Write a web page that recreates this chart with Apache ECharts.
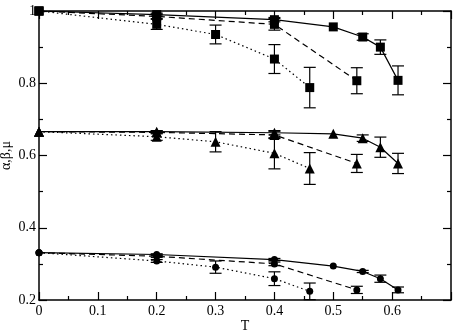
<!DOCTYPE html>
<html>
<head>
<meta charset="utf-8">
<script src="https://cdn.jsdelivr.net/npm/echarts@6/dist/echarts.min.js"></script>
<style>
html, body { margin: 0; padding: 0; background: #fff; }
#chart { width: 454px; height: 334px; }
</style>
</head>
<body>
<div id="chart"></div>
<script>
// alpha (squares)
var sqSolidX = [0, 0.2, 0.4, 0.5, 0.55, 0.58, 0.61];
var sqSolidY = [1.0, 0.99, 0.976, 0.956, 0.928, 0.90, 0.808];
var sqSolidE = [0, 0.004, 0.006, 0, 0.009, 0.02, 0.04];
var sqDashX = [0, 0.2, 0.4, 0.54];
var sqDashY = [1.0, 0.985, 0.963, 0.807];
var sqDashE = [0, 0.006, 0.016, 0.036];
var sqDotX = [0, 0.2, 0.3, 0.4, 0.46];
var sqDotY = [1.0, 0.963, 0.935, 0.867, 0.788];
var sqDotE = [0, 0.014, 0.026, 0.04, 0.056];
// beta (triangles)
var trSolidX = [0, 0.2, 0.4, 0.5, 0.55, 0.58, 0.61];
var trSolidY = [0.666, 0.666, 0.663, 0.66, 0.648, 0.623, 0.578];
var trSolidE = [0, 0.003, 0.006, 0, 0.009, 0.028, 0.028];
var trDashX = [0, 0.2, 0.4, 0.54];
var trDashY = [0.666, 0.664, 0.657, 0.578];
var trDashE = [0, 0.004, 0.01, 0.025];
var trDotX = [0, 0.2, 0.3, 0.4, 0.46];
var trDotY = [0.666, 0.652, 0.638, 0.606, 0.564];
var trDotE = [0, 0.01, 0.028, 0.043, 0.044];
// mu (circles)
var ciSolidX = [0, 0.2, 0.4, 0.5, 0.55, 0.58, 0.61];
var ciSolidY = [0.331, 0.326, 0.312, 0.294, 0.279, 0.259, 0.228];
var ciSolidE = [0, 0.002, 0.003, 0, 0.003, 0.01, 0.008];
var ciDashX = [0, 0.2, 0.4, 0.54];
var ciDashY = [0.331, 0.321, 0.30, 0.228];
var ciDashE = [0, 0.003, 0.005, 0.01];
var ciDotX = [0, 0.2, 0.3, 0.4, 0.46];
var ciDotY = [0.331, 0.308, 0.291, 0.259, 0.224];
var ciDotE = [0, 0.004, 0.017, 0.019, 0.023];

var xTicks = ['0', '0.1', '0.2', '0.3', '0.4', '0.5', '0.6'];

var chart = echarts.init(document.getElementById('chart'));
var FONT = 'Liberation Serif';

function pts(xs, ys) {
    return xs.map(function (x, i) { return [x, ys[i]]; });
}
function errs(xs, ys, es) {
    return xs.map(function (x, i) { return [x, ys[i], es[i]]; });
}
function lineSeries(xs, ys, sym, size, type) {
    var dash = type === 'dashed' ? [6, 4] : (type === 'dotted' ? [1.5, 3] : 'solid');
    return {
        type: 'line', data: pts(xs, ys), symbol: sym, symbolSize: size,
        itemStyle: { color: '#000' },
        lineStyle: { color: '#000', width: 1.2, type: dash },
        animation: false, silent: true, z: 3
    };
}
function errSeries(xs, ys, es) {
    return {
        type: 'custom', data: errs(xs, ys, es), animation: false, silent: true, z: 2,
        renderItem: function (params, api) {
            var x = api.value(0), y = api.value(1), e = api.value(2);
            if (!e) { return null; }
            var t = api.coord([x, y + e]), b = api.coord([x, y - e]);
            var w = 6;
            var st = { stroke: '#000', lineWidth: 1.2 };
            return {
                type: 'group', children: [
                    { type: 'line', shape: { x1: t[0], y1: t[1], x2: b[0], y2: b[1] }, style: st },
                    { type: 'line', shape: { x1: t[0] - w, y1: t[1], x2: t[0] + w, y2: t[1] }, style: st },
                    { type: 'line', shape: { x1: b[0] - w, y1: b[1], x2: b[0] + w, y2: b[1] }, style: st }
                ]
            };
        }
    };
}

var groups = [
    [sqSolidX, sqSolidY, sqSolidE, 'rect', 9, 'solid'],
    [sqDashX, sqDashY, sqDashE, 'rect', 9, 'dashed'],
    [sqDotX, sqDotY, sqDotE, 'rect', 9, 'dotted'],
    [trSolidX, trSolidY, trSolidE, 'triangle', 10, 'solid'],
    [trDashX, trDashY, trDashE, 'triangle', 10, 'dashed'],
    [trDotX, trDotY, trDotE, 'triangle', 10, 'dotted'],
    [ciSolidX, ciSolidY, ciSolidE, 'circle', 7, 'solid'],
    [ciDashX, ciDashY, ciDashE, 'circle', 7, 'dashed'],
    [ciDotX, ciDotY, ciDotE, 'circle', 7, 'dotted']
];
var series = [];
groups.forEach(function (g) {
    series.push(errSeries(g[0], g[1], g[2]));
    series.push(lineSeries(g[0], g[1], g[3], g[4], g[5]));
});

var axisLine = { show: true, onZero: false, lineStyle: { color: '#000', width: 1.5 } };
var tick = { show: true, inside: true, length: 8, lineStyle: { color: '#000', width: 1.2 } };
var minor = { show: true, splitNumber: 2, length: 4, lineStyle: { color: '#000', width: 1.2 } };

var option = {
    backgroundColor: '#fff',
    animation: false,
    grid: { left: 39, right: 3, top: 11, bottom: 34, containLabel: false, outerBoundsMode: 'none' },
    xAxis: [
        {
            type: 'value', min: 0, max: 0.7, interval: 0.1, position: 'bottom',
            name: 'T', nameLocation: 'middle', nameGap: 19, nameMoveOverlap: false,
            nameTextStyle: { fontFamily: FONT, fontSize: 14, color: '#000' },
            axisLine: axisLine, axisTick: tick, minorTick: minor, splitLine: { show: false },
            axisLabel: {
                fontFamily: FONT, fontSize: 14, color: '#000', margin: 4,
                formatter: function (v) { var i = Math.round(v * 10); return xTicks[i] || ''; }
            }
        },
        {
            type: 'value', min: 0, max: 0.7, interval: 0.1, position: 'top',
            axisLine: axisLine, axisTick: tick, minorTick: minor, splitLine: { show: false },
            axisLabel: { show: false }
        }
    ],
    yAxis: [
        {
            type: 'value', min: 0.2, max: 1, interval: 0.2, position: 'left',
            name: 'α,β,μ', nameLocation: 'middle', nameGap: 26, nameRotate: 90, nameMoveOverlap: false,
            nameTextStyle: { fontFamily: FONT, fontSize: 14, color: '#000' },
            axisLine: axisLine, axisTick: tick, minorTick: minor, splitLine: { show: false },
            axisLabel: {
                fontFamily: FONT, fontSize: 14, color: '#000', margin: 3,
                formatter: function (v) { return Math.abs(v - 1) < 1e-9 ? '1' : v.toFixed(1); }
            }
        },
        {
            type: 'value', min: 0.2, max: 1, interval: 0.2, position: 'right',
            axisLine: axisLine, axisTick: tick, minorTick: minor, splitLine: { show: false },
            axisLabel: { show: false }
        }
    ],
    series: series
};
chart.setOption(option);
</script>
</body>
</html>
